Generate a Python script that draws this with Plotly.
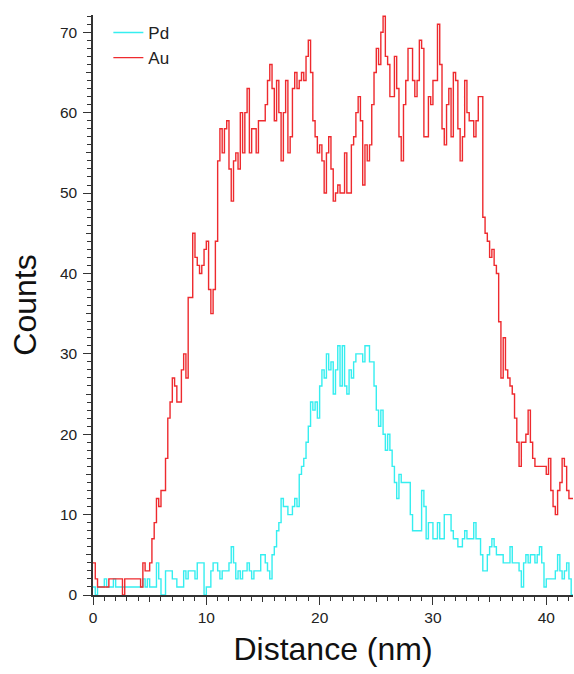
import plotly.graph_objects as go

# sampling step of the line profile (nm)
step_nm = 0.2

au_counts = [
    4, 2, 1, 1, 1, 1, 1, 2, 2, 2,
    2, 2, 2, 0, 2, 2, 2, 2, 2, 2,
    2, 1, 4, 3, 3, 4, 7, 9, 12, 11,
    13, 13, 17, 22, 24, 27, 26, 24, 24, 28,
    30, 27, 37, 37, 45, 42, 41, 40, 41, 43,
    44, 38, 35, 38, 44, 54, 58, 55, 58, 59,
    53, 49, 54, 55, 53, 60, 55, 60, 63, 55,
    58, 58, 55, 59, 59, 59, 61, 64, 66, 63,
    59, 64, 60, 54, 60, 64, 55, 57, 63, 65,
    63, 64, 65, 64, 67, 69, 65, 59, 57, 55,
    56, 54, 50, 55, 57, 53, 49, 50, 51, 50,
    50, 55, 50, 50, 56, 57, 60, 62, 59, 51,
    56, 54, 56, 61, 65, 68, 66, 70, 72, 67,
    66, 62, 62, 67, 63, 57, 54, 61, 64, 68,
    68, 64, 62, 64, 69, 68, 57, 57, 62, 61,
    64, 64, 71, 66, 58, 56, 61, 63, 57, 65,
    64, 58, 54, 57, 64, 60, 59, 59, 57, 59,
    62, 62, 47, 45, 44, 42, 43, 41, 40, 34,
    27, 32, 28, 27, 26, 25, 22, 19, 16, 19,
    19, 20, 23, 19, 17, 16, 16, 16, 16, 16,
    15, 17, 13, 11, 10, 13, 14, 17, 16, 13,
    12, 12, 12,
]

pd_counts = [
    1, 0, 1, 1, 1, 2, 1, 1, 1, 2,
    1, 1, 1, 1, 1, 1, 1, 1, 1, 1,
    1, 1, 2, 1, 2, 1, 1, 1, 4, 2,
    0, 0, 3, 3, 3, 2, 2, 1, 1, 1,
    3, 2, 3, 3, 3, 2, 4, 4, 4, 0,
    1, 1, 3, 4, 4, 3, 2, 3, 3, 3,
    4, 6, 4, 2, 3, 2, 3, 3, 4, 3,
    2, 3, 3, 3, 5, 5, 4, 3, 2, 5,
    6, 8, 9, 12, 11, 11, 10, 10, 11, 12,
    11, 15, 16, 17, 19, 21, 24, 23, 24, 22,
    26, 28, 27, 30, 28, 29, 25, 28, 31, 26,
    31, 26, 25, 28, 27, 29, 30, 30, 30, 29,
    31, 31, 29, 29, 26, 23, 21, 23, 20, 18,
    20, 18, 16, 14, 12, 15, 14, 14, 14, 14,
    10, 8, 8, 8, 8, 13, 11, 7, 9, 9,
    7, 7, 9, 7, 7, 10, 10, 10, 8, 7,
    7, 6, 6, 7, 8, 7, 7, 7, 9, 7,
    7, 5, 3, 3, 5, 6, 7, 6, 5, 5,
    5, 4, 4, 4, 6, 4, 4, 4, 3, 1,
    4, 5, 4, 5, 5, 4, 5, 6, 4, 1,
    2, 2, 2, 2, 3, 5, 3, 2, 3, 4,
    2, 0, 0,
]

distance_au = [round(i * step_nm, 3) for i in range(len(au_counts))]
distance_pd = [round(i * step_nm, 3) for i in range(len(pd_counts))]

x_ticks = [0, 10, 20, 30, 40]
y_ticks = [0, 10, 20, 30, 40, 50, 60, 70]
x_range = [0, 42.36]
y_range = [0, 72.15]

FONT = "Liberation Sans, Arial, sans-serif"
AXC = "#333333"

fig = go.Figure()
fig.add_trace(go.Scatter(x=distance_pd, y=pd_counts, name="Pd", mode="lines",
                         line=dict(color="#35EEF0", width=1.4, shape="hv")))
fig.add_trace(go.Scatter(x=distance_au, y=au_counts, name="Au", mode="lines",
                         line=dict(color="#EE2A2E", width=1.4, shape="hv")))
# helper trace for the overlay axes that carry the 5-unit ticks
fig.add_trace(go.Scatter(x=[None], y=[None], xaxis="x2", yaxis="y2",
                         showlegend=False, hoverinfo="skip"))

fig.update_layout(
    width=574, height=674,
    margin=dict(l=93, r=1, t=15, b=79),
    paper_bgcolor="white", plot_bgcolor="white",
    font=dict(family=FONT, color="#222222"),
    showlegend=True,
    legend=dict(x=0.032, y=1.0, xanchor="left", yanchor="top",
                bgcolor="rgba(0,0,0,0)", font=dict(size=17, family=FONT),
                tracegroupgap=0, itemwidth=30),
    xaxis=dict(
        range=x_range, tickvals=x_ticks, ticks="outside", ticklen=8, tickwidth=1.3,
        tickcolor=AXC, showline=True, linecolor=AXC, linewidth=1.5,
        showgrid=False, zeroline=False, tickfont=dict(size=15.5, family=FONT),
        minor=dict(dtick=1, ticks="outside", ticklen=4, tickwidth=1.2, tickcolor=AXC, showgrid=False),
        title=dict(text="Distance (nm)", font=dict(size=32, family=FONT, color="#111111"), standoff=12),
    ),
    yaxis=dict(
        range=y_range, tickvals=y_ticks, ticks="outside", ticklen=8, tickwidth=1.3,
        tickcolor=AXC, showline=True, linecolor=AXC, linewidth=1.5,
        showgrid=False, zeroline=False, tickfont=dict(size=15.5, family=FONT),
        ticklabelstandoff=3,
        minor=dict(dtick=1, ticks="outside", ticklen=4, tickwidth=1.2, tickcolor=AXC, showgrid=False),
        title=dict(text="Counts", font=dict(size=32, family=FONT, color="#111111"), standoff=14),
    ),
    xaxis2=dict(range=x_range, overlaying="x", anchor="y", side="bottom", dtick=5, tick0=0,
                ticks="outside", ticklen=6, tickwidth=1.2, tickcolor=AXC,
                showticklabels=False, showgrid=False, zeroline=False, showline=False),
    yaxis2=dict(range=y_range, overlaying="y", anchor="x", side="left", dtick=5, tick0=0,
                ticks="outside", ticklen=6, tickwidth=1.2, tickcolor=AXC,
                showticklabels=False, showgrid=False, zeroline=False, showline=False),
)

fig.write_html("out.html")
